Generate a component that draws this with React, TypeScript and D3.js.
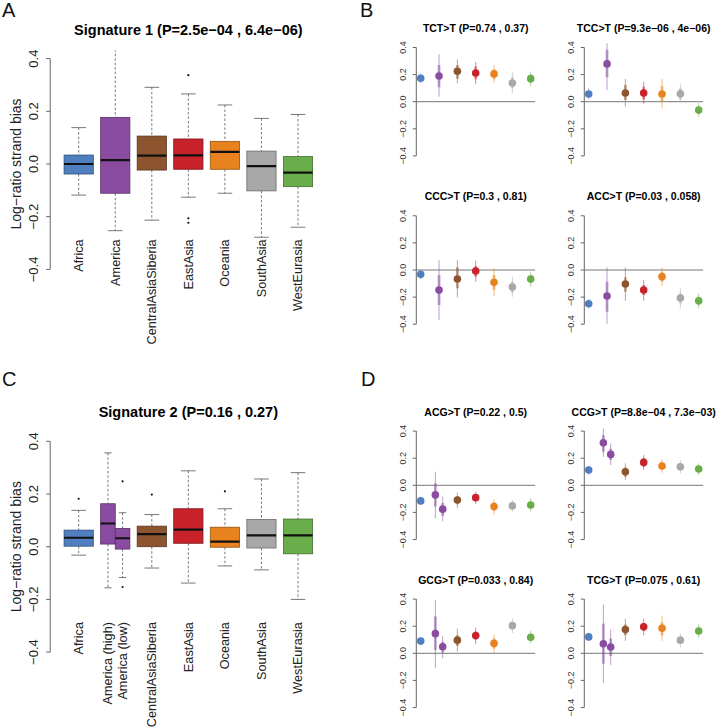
import React from "react";
import * as d3 from "d3";

// ---------- DATA ----------
const regions = ["Africa", "America", "CentralAsiaSiberia", "EastAsia", "Oceania", "SouthAsia", "WestEurasia"];
const regionColors = ["#4f7fbf", "#8a4ca0", "#8c5530", "#c8222a", "#e8821f", "#a8a8a8", "#6aae4b"];

// Signature 1 boxplot stats (per region)
const sig1Title = "Signature 1 (P=2.5e\u221204 , 6.4e\u221206)";
const sig1Lower = [-0.118, -0.253, -0.213, -0.126, -0.111, -0.278, -0.24];
const sig1Q1 = [-0.038, -0.111, -0.023, -0.02, -0.02, -0.102, -0.086];
const sig1Median = [0.0, 0.015, 0.032, 0.033, 0.046, -0.008, -0.033];
const sig1Q3 = [0.034, 0.177, 0.106, 0.095, 0.086, 0.049, 0.028];
const sig1Upper = [0.138, 0.47, 0.291, 0.266, 0.224, 0.173, 0.188];
const sig1Outliers = [
  { group: 3, value: 0.337 },
  { group: 3, value: -0.206 },
  { group: 3, value: -0.223 },
];

// Signature 2 boxplot stats (America split into high / low)
const groups2 = ["Africa", "America (high)", "America (low)", "CentralAsiaSiberia", "EastAsia", "Oceania", "SouthAsia", "WestEurasia"];
const groups2Region = [0, 1, 1, 2, 3, 4, 5, 6];
const sig2Title = "Signature 2 (P=0.16 , 0.27)";
const sig2Lower = [-0.032, -0.156, -0.117, -0.081, -0.138, -0.073, -0.088, -0.2];
const sig2Q1 = [0.002, 0.01, -0.009, 0.0, 0.013, -0.002, -0.005, -0.027];
const sig2Median = [0.034, 0.088, 0.032, 0.048, 0.065, 0.019, 0.043, 0.043];
const sig2Q3 = [0.063, 0.163, 0.069, 0.078, 0.144, 0.074, 0.103, 0.105];
const sig2Upper = [0.138, 0.356, 0.129, 0.122, 0.288, 0.144, 0.257, 0.281];
const sig2Outliers = [
  { group: 0, value: 0.182 },
  { group: 2, value: 0.248 },
  { group: 2, value: -0.153 },
  { group: 3, value: 0.198 },
  { group: 5, value: 0.21 },
];

// Panel B dot plots (7 regions)
const tctTitle = "TCT>T (P=0.74 , 0.37)";
const tctMean = [0.173, 0.19, 0.225, 0.212, 0.205, 0.138, 0.17];
const tctLo = [0.136, 0.037, 0.136, 0.128, 0.14, 0.062, 0.116];
const tctHi = [0.21, 0.35, 0.313, 0.294, 0.27, 0.215, 0.222];
const tctInLo = [0.155, 0.106, 0.17, 0.165, 0.165, 0.1, 0.14];
const tctInHi = [0.19, 0.27, 0.27, 0.26, 0.24, 0.18, 0.2];

const tccTitle = "TCC>T (P=9.3e\u221206 , 4e\u221206)";
const tccMean = [0.057, 0.279, 0.064, 0.064, 0.057, 0.059, -0.062];
const tccLo = [0.017, 0.086, -0.037, -0.015, -0.049, -0.007, -0.111];
const tccHi = [0.099, 0.45, 0.168, 0.148, 0.168, 0.128, -0.012];
const tccInLo = [0.035, 0.18, 0.012, 0.017, 0.0, 0.017, -0.09];
const tccInHi = [0.08, 0.383, 0.123, 0.111, 0.116, 0.099, -0.037];

const cccTitle = "CCC>T (P=0.3 , 0.81)";
const cccMean = [-0.032, -0.148, -0.066, -0.007, -0.091, -0.126, -0.066];
const cccLo = [-0.066, -0.37, -0.202, -0.086, -0.192, -0.197, -0.123];
const cccHi = [0.0, 0.074, 0.074, 0.069, 0.012, -0.049, -0.012];
const cccInLo = [-0.05, -0.259, -0.135, -0.05, -0.148, -0.167, -0.098];
const cccInHi = [-0.015, -0.037, 0.02, 0.03, -0.037, -0.086, -0.037];

const accTitle = "ACC>T (P=0.03 , 0.058)";
const accMean = [-0.249, -0.192, -0.103, -0.148, -0.049, -0.207, -0.227];
const accLo = [-0.283, -0.399, -0.227, -0.227, -0.118, -0.283, -0.283];
const accHi = [-0.217, 0.02, 0.02, -0.074, 0.02, -0.135, -0.172];
const accInLo = [-0.268, -0.308, -0.16, -0.185, -0.086, -0.247, -0.258];
const accInHi = [-0.232, -0.086, -0.054, -0.111, -0.012, -0.172, -0.197];

// Panel D dot plots (8 groups, America high / low)
const acgTitle = "ACG>T (P=0.22 , 0.5)";
const acgMean = [-0.115, -0.071, -0.176, -0.108, -0.091, -0.157, -0.152, -0.145];
const acgLo = [-0.145, -0.243, -0.267, -0.169, -0.137, -0.218, -0.194, -0.194];
const acgHi = [-0.088, 0.1, -0.083, -0.054, -0.047, -0.103, -0.108, -0.096];
const acgInLo = [-0.13, -0.157, -0.226, -0.14, -0.115, -0.19, -0.175, -0.17];
const acgInHi = [-0.1, 0.015, -0.13, -0.08, -0.07, -0.125, -0.13, -0.12];

const ccgTitle = "CCG>T (P=8.8e\u221204 , 7.3e\u221203)";
const ccgMean = [0.113, 0.314, 0.228, 0.1, 0.169, 0.142, 0.137, 0.12];
const ccgLo = [0.076, 0.211, 0.15, 0.039, 0.113, 0.093, 0.088, 0.076];
const ccgHi = [0.142, 0.419, 0.309, 0.162, 0.223, 0.191, 0.186, 0.162];
const ccgInLo = [0.095, 0.248, 0.186, 0.064, 0.137, 0.118, 0.11, 0.1];
const ccgInHi = [0.13, 0.37, 0.27, 0.132, 0.2, 0.17, 0.165, 0.142];

const gcgTitle = "GCG>T (P=0.033 , 0.84)";
const gcgMean = [0.09, 0.145, 0.048, 0.097, 0.131, 0.073, 0.204, 0.119];
const gcgLo = [0.065, -0.109, -0.036, 0.012, 0.068, 0.005, 0.15, 0.073];
const gcgHi = [0.114, 0.393, 0.126, 0.182, 0.189, 0.138, 0.255, 0.165];
const gcgInLo = [0.078, 0.024, 0.005, 0.053, 0.1, 0.036, 0.18, 0.095];
const gcgInHi = [0.102, 0.272, 0.085, 0.133, 0.16, 0.109, 0.23, 0.14];

const tcgTitle = "TCG>T (P=0.075 , 0.61)";
const tcgMean = [0.121, 0.07, 0.046, 0.175, 0.196, 0.184, 0.097, 0.165];
const tcgLo = [0.092, -0.218, -0.085, 0.092, 0.133, 0.092, 0.044, 0.116];
const tcgHi = [0.145, 0.359, 0.175, 0.255, 0.255, 0.279, 0.145, 0.214];
const tcgInLo = [0.105, -0.078, -0.02, 0.133, 0.165, 0.133, 0.07, 0.14];
const tcgInHi = [0.135, 0.218, 0.11, 0.212, 0.225, 0.23, 0.12, 0.19];

const yTicks = [-0.4, -0.2, 0.0, 0.2, 0.4];
const yLabel = "Log\u2212ratio strand bias";
const panelLetters = ["A", "B", "C", "D"];

// ---------- LAYOUT ----------
const W = 717;
const H = 728;
const FONT = "'Liberation Sans', Arial, Helvetica, sans-serif";
const AXIS_COLOR = "#666";
const fmt = (v: number) => (v < 0 ? "\u2212" + Math.abs(v).toFixed(1) : v.toFixed(1));

// position of a group on the category axis (1-based); America halves split +/-0.2
function groupPos(names: string[], regionIdx: number[]) {
  return names.map((n, i) => {
    const base = regionIdx[i] + 1;
    if (n.includes("(high)")) return base - 0.2;
    if (n.includes("(low)")) return base + 0.2;
    return base;
  });
}

type BoxProps = {
  id: string;
  dy: number;
  title: string;
  names: string[];
  regionIdx: number[];
  lower: number[];
  q1: number[];
  med: number[];
  q3: number[];
  upper: number[];
  outliers: { group: number; value: number }[];
};

function BoxPanel(p: BoxProps) {
  const x = d3.scaleLinear().domain([1, 7]).range([78.7, 298.0]);
  const y = d3.scaleLinear().domain([-0.4, 0.4]).range([269.4 + p.dy, 58.6 + p.dy]);
  const unit = x(2) - x(1);
  const pos = groupPos(p.names, p.regionIdx);
  const widths = p.names.map((n) => (n.includes("(") ? 0.4 : 0.8) * unit);
  const axisX = x(0.22);
  const clipTop = y(0.432);
  const clipBot = y(-0.432);
  return (
    <g>
      <defs>
        <clipPath id={p.id}>
          <rect x={axisX} y={clipTop} width={x(7.78) - axisX} height={clipBot - clipTop} />
        </clipPath>
      </defs>
      <text x={x(4)} y={y(0.491)} textAnchor="middle" fontWeight="bold" fontSize={14.5} fontFamily={FONT}>
        {p.title}
      </text>
      {/* y axis */}
      <line x1={axisX} x2={axisX} y1={y(-0.4)} y2={y(0.4)} stroke={AXIS_COLOR} strokeWidth={1} />
      {yTicks.map((t) => (
        <g key={t}>
          <line x1={axisX - 4} x2={axisX} y1={y(t)} y2={y(t)} stroke={AXIS_COLOR} strokeWidth={1} />
          <text
            transform={`translate(${axisX - 17},${y(t)}) rotate(-90)`}
            textAnchor="middle"
            dy="0.35em"
            fontSize={13}
            fontFamily={FONT}
            fill="#222"
          >
            {fmt(t)}
          </text>
        </g>
      ))}
      <text
        transform={`translate(16,${y(0)}) rotate(-90)`}
        textAnchor="middle"
        dy="0.35em"
        fontSize={14}
        fontFamily={FONT}
        fill="#222"
      >
        {yLabel}
      </text>
      <g clipPath={`url(#${p.id})`}>
        {p.names.map((n, i) => {
          const cx = x(pos[i]);
          const w = widths[i];
          const col = regionColors[p.regionIdx[i]];
          const border = d3.color(col)!.darker(1.3).formatHex();
          return (
            <g key={n}>
              <line x1={cx} x2={cx} y1={y(p.upper[i])} y2={y(p.q3[i])} stroke="#555" strokeWidth={0.8} strokeDasharray="2.5,2" />
              <line x1={cx} x2={cx} y1={y(p.q1[i])} y2={y(p.lower[i])} stroke="#555" strokeWidth={0.8} strokeDasharray="2.5,2" />
              <line x1={cx - w / 4} x2={cx + w / 4} y1={y(p.upper[i])} y2={y(p.upper[i])} stroke="#555" strokeWidth={0.8} />
              <line x1={cx - w / 4} x2={cx + w / 4} y1={y(p.lower[i])} y2={y(p.lower[i])} stroke="#555" strokeWidth={0.8} />
              <rect
                x={cx - w / 2}
                y={y(p.q3[i])}
                width={w}
                height={y(p.q1[i]) - y(p.q3[i])}
                fill={col}
                stroke={border}
                strokeWidth={0.8}
              />
              <line x1={cx - w / 2} x2={cx + w / 2} y1={y(p.med[i])} y2={y(p.med[i])} stroke="#111" strokeWidth={2.2} />
            </g>
          );
        })}
        {p.outliers.map((o, k) => (
          <circle key={k} cx={x(pos[o.group])} cy={y(o.value)} r={1.1} fill="#111" />
        ))}
      </g>
      {p.names.map((n, i) => (
        <text
          key={n}
          transform={`translate(${x(pos[i])},${y(-0.286)}) rotate(-90)`}
          textAnchor="end"
          dy="0.35em"
          fontSize={12.7}
          fontFamily={FONT}
          fill="#222"
        >
          {n}
        </text>
      ))}
    </g>
  );
}

type DotProps = {
  id: string;
  x0: number;
  zero: number;
  title: string;
  regionIdx: number[];
  names: string[];
  mean: number[];
  lo: number[];
  hi: number[];
  inLo: number[];
  inHi: number[];
};

function DotPanel(p: DotProps) {
  const x = d3.scaleLinear().domain([1, 7]).range([p.x0, p.x0 + 110]);
  const y = d3.scaleLinear().domain([-0.4, 0.4]).range([p.zero + 54.2, p.zero - 54.2]);
  const pos = groupPos(p.names, p.regionIdx);
  const axisX = x(0.76);
  return (
    <g>
      <defs>
        <clipPath id={p.id}>
          <rect x={axisX} y={y(0.432)} width={x(7.24) - axisX} height={y(-0.432) - y(0.432)} />
        </clipPath>
      </defs>
      <text x={x(4)} y={y(0.514)} textAnchor="middle" fontWeight="bold" fontSize={10.5} fontFamily={FONT}>
        {p.title}
      </text>
      <line x1={axisX} x2={axisX} y1={y(-0.4)} y2={y(0.4)} stroke={AXIS_COLOR} strokeWidth={1} />
      {yTicks.map((t) => (
        <g key={t}>
          <line x1={axisX - 3.5} x2={axisX} y1={y(t)} y2={y(t)} stroke={AXIS_COLOR} strokeWidth={1} />
          <text
            transform={`translate(${axisX - 13},${y(t)}) rotate(-90)`}
            textAnchor="middle"
            dy="0.35em"
            fontSize={9}
            fontFamily={FONT}
            fill="#333"
          >
            {fmt(t)}
          </text>
        </g>
      ))}
      <line x1={axisX} x2={x(7.24)} y1={y(0)} y2={y(0)} stroke="#777" strokeWidth={1} />
      <g clipPath={`url(#${p.id})`}>
        {p.names.map((n, i) => {
          const cx = x(pos[i]);
          const col = regionColors[p.regionIdx[i]];
          return (
            <g key={n}>
              <line x1={cx} x2={cx} y1={y(p.hi[i])} y2={y(p.lo[i])} stroke={col} strokeOpacity={0.55} strokeWidth={1} />
              <line x1={cx} x2={cx} y1={y(p.inHi[i])} y2={y(p.inLo[i])} stroke={col} strokeOpacity={0.5} strokeWidth={2.8} />
              <circle cx={cx} cy={y(p.mean[i])} r={3.8} fill={col} />
            </g>
          );
        })}
      </g>
    </g>
  );
}

export default function App() {
  const C_DY = 382.7;
  const leftX = 420.7;
  const rightX = 588.7;
  const zeros = [101.7, 270.0, 485.3, 653.3];
  const letterPos = [
    [2, 17],
    [360, 17],
    [2, 386],
    [361, 386],
  ];
  return (
    <svg
      width={W}
      height={H}
      style={{ position: "absolute", left: 0, top: 0, background: "#fff" }}
      xmlns="http://www.w3.org/2000/svg"
    >
      <rect width={W} height={H} fill="#fff" />
      {panelLetters.map((l, i) => (
        <text key={l} x={letterPos[i][0]} y={letterPos[i][1]} fontSize={20} fontFamily={FONT} fill="#111">
          {l}
        </text>
      ))}
      <BoxPanel
        id="clipA"
        dy={0}
        title={sig1Title}
        names={regions}
        regionIdx={regions.map((_, i) => i)}
        lower={sig1Lower}
        q1={sig1Q1}
        med={sig1Median}
        q3={sig1Q3}
        upper={sig1Upper}
        outliers={sig1Outliers}
      />
      <BoxPanel
        id="clipC"
        dy={C_DY}
        title={sig2Title}
        names={groups2}
        regionIdx={groups2Region}
        lower={sig2Lower}
        q1={sig2Q1}
        med={sig2Median}
        q3={sig2Q3}
        upper={sig2Upper}
        outliers={sig2Outliers}
      />
      <DotPanel id="b1" x0={leftX} zero={zeros[0]} title={tctTitle} names={regions} regionIdx={regions.map((_, i) => i)} mean={tctMean} lo={tctLo} hi={tctHi} inLo={tctInLo} inHi={tctInHi} />
      <DotPanel id="b2" x0={rightX} zero={zeros[0]} title={tccTitle} names={regions} regionIdx={regions.map((_, i) => i)} mean={tccMean} lo={tccLo} hi={tccHi} inLo={tccInLo} inHi={tccInHi} />
      <DotPanel id="b3" x0={leftX} zero={zeros[1]} title={cccTitle} names={regions} regionIdx={regions.map((_, i) => i)} mean={cccMean} lo={cccLo} hi={cccHi} inLo={cccInLo} inHi={cccInHi} />
      <DotPanel id="b4" x0={rightX} zero={zeros[1]} title={accTitle} names={regions} regionIdx={regions.map((_, i) => i)} mean={accMean} lo={accLo} hi={accHi} inLo={accInLo} inHi={accInHi} />
      <DotPanel id="d1" x0={leftX} zero={zeros[2]} title={acgTitle} names={groups2} regionIdx={groups2Region} mean={acgMean} lo={acgLo} hi={acgHi} inLo={acgInLo} inHi={acgInHi} />
      <DotPanel id="d2" x0={rightX} zero={zeros[2]} title={ccgTitle} names={groups2} regionIdx={groups2Region} mean={ccgMean} lo={ccgLo} hi={ccgHi} inLo={ccgInLo} inHi={ccgInHi} />
      <DotPanel id="d3" x0={leftX} zero={zeros[3]} title={gcgTitle} names={groups2} regionIdx={groups2Region} mean={gcgMean} lo={gcgLo} hi={gcgHi} inLo={gcgInLo} inHi={gcgInHi} />
      <DotPanel id="d4" x0={rightX} zero={zeros[3]} title={tcgTitle} names={groups2} regionIdx={groups2Region} mean={tcgMean} lo={tcgLo} hi={tcgHi} inLo={tcgInLo} inHi={tcgInHi} />
    </svg>
  );
}
